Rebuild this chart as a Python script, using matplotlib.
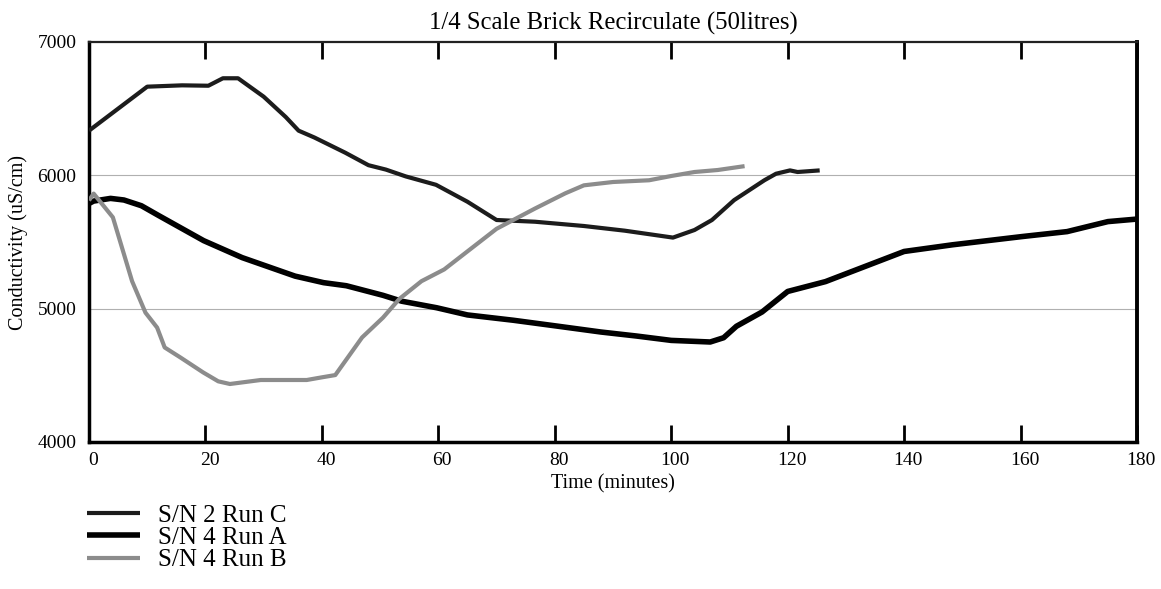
import matplotlib
matplotlib.use("Agg")
import matplotlib.pyplot as plt
import matplotlib.transforms as mtransforms

plt.rcParams['font.family'] = ['Liberation Serif', 'DejaVu Serif']

title = "1/4 Scale Brick Recirculate (50litres)"
xlabel = "Time (minutes)"
ylabel = "Conductivity (uS/cm)"

# S/N 2 Run C
c_t = [0, 5, 10, 16, 20.5, 23, 25.6, 30, 33.8, 36, 38.7, 44, 48, 51, 54.4, 59.6, 65, 70, 76.6, 85, 92, 100.3, 104, 107, 110.8, 116, 118, 120.4, 121.7, 125.5]
c_v = [6335, 6500, 6665, 6675, 6672, 6728, 6728, 6590, 6437, 6335, 6284, 6170, 6076, 6043, 5992, 5929, 5802, 5665, 5652, 5620, 5585, 5533, 5590, 5665, 5814, 5963, 6012, 6037, 6025, 6037]

# S/N 4 Run A
a_t = [0, 0.8, 3.7, 6, 9, 11.9, 19.7, 26.3, 35.4, 40.3, 44.2, 50.5, 53.7, 59.7, 65, 72.9, 80.1, 87.9, 94, 100, 106.7, 109, 111.2, 115.6, 120, 126.5, 140, 148.3, 160.3, 168, 175, 180]
a_v = [5789, 5807, 5827, 5815, 5772, 5700, 5510, 5383, 5244, 5195, 5172, 5100, 5056, 5007, 4953, 4913, 4871, 4825, 4795, 4762, 4750, 4782, 4868, 4975, 5129, 5203, 5429, 5479, 5541, 5578, 5653, 5672]

# S/N 4 Run B
b_t = [0, 0.8, 4.1, 7.4, 9.7, 11.7, 13, 15.7, 19.6, 22.2, 24.2, 29.5, 37.4, 40, 42.3, 46.9, 50.5, 53.3, 57.1, 61, 70, 76.6, 81.8, 85, 90, 96.2, 100, 104, 108, 112.6]
b_v = [5812, 5863, 5685, 5206, 4970, 4858, 4709, 4634, 4522, 4455, 4435, 4465, 4465, 4485, 4502, 4784, 4933, 5073, 5206, 5294, 5599, 5751, 5865, 5925, 5950, 5963, 5995, 6025, 6040, 6069]

series_labels = ["S/N 2 Run C", "S/N 4 Run A", "S/N 4 Run B"]
x_ticks = [0, 20, 40, 60, 80, 100, 120, 140, 160, 180]
y_ticks = [4000, 5000, 6000, 7000]

fig = plt.figure(figsize=(11.61, 5.89), dpi=100)
ax = fig.add_axes([89 / 1161, 1 - 442 / 589, (1137 - 89) / 1161, 400 / 589])

l1, = ax.plot(c_t, c_v, color='#1c1c1c', lw=3.0, solid_capstyle='butt', zorder=3)
l2, = ax.plot(a_t, a_v, color='black', lw=4.0, solid_capstyle='butt', zorder=3)
l3, = ax.plot(b_t, b_v, color='#8c8c8c', lw=3.0, solid_capstyle='butt', zorder=3)

ax.set_xlim(0, 180)
ax.set_ylim(4000, 7000)
ax.set_xticks(x_ticks)
ax.set_yticks(y_ticks)
ax.tick_params(axis='x', direction='in', length=12, width=2, top=True, bottom=True,
               labelsize=14, pad=7)
ax.tick_params(axis='y', length=0, labelsize=14, pad=9)
offset = mtransforms.ScaledTranslation(4 / 100, 0, fig.dpi_scale_trans)
for lab in ax.get_xticklabels():
    lab.set_transform(lab.get_transform() + offset)
for y in [5000, 6000]:
    ax.axhline(y, color='#b0b0b0', lw=0.8, zorder=1)

ax.spines['left'].set_linewidth(2.5)
ax.spines['bottom'].set_linewidth(2.5)
ax.spines['right'].set_linewidth(2.8)
ax.spines['top'].set_linewidth(1.6)
ax.spines['top'].set_color('#222222')

ax.set_title(title, fontsize=17.8, pad=9)
ax.set_xlabel(xlabel, fontsize=14.5, labelpad=4)
ax.set_ylabel(ylabel, fontsize=14.5, labelpad=7)

fig.legend([l1, l2, l3], series_labels, loc='upper left',
           bbox_to_anchor=(87 / 1161, 1 - 504 / 589), frameon=False, fontsize=18,
           handlelength=2.1, handletextpad=0.75, labelspacing=0.0,
           borderpad=0, borderaxespad=0)

fig.savefig("out.png", dpi=100)
